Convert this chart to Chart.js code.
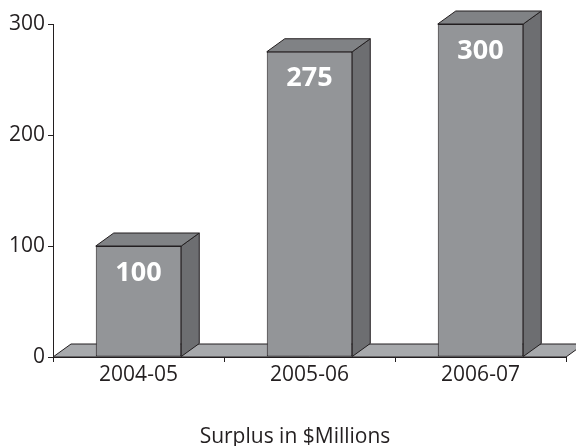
<!DOCTYPE html>
<html>
<head>
<meta charset="utf-8">
<script src="https://cdn.jsdelivr.net/npm/chart.js@4.4.0/dist/chart.umd.min.js"></script>
<style>
  html, body { margin: 0; padding: 0; background: #ffffff; }
  #wrap { width: 576px; height: 446px; position: relative; }
</style>
</head>
<body>
<div id="wrap"><canvas id="c" width="576" height="446"></canvas></div>
<script>
const categories = ['2004-05', '2005-06', '2006-07'];
const surplus = [100, 275, 300];
const yTicks = [0, 100, 200, 300];
const chartTitle = 'Surplus in $Millions';

const DEPTH_X = 18, DEPTH_Y = 13;
const INK = '#231f20';
const FRONT = '#939598', SIDE = '#6d6e71', TOP = '#808285', FLOOR = '#a7a9ac';

const threeD = {
  id: 'threeD',
  beforeDatasetsDraw(chart) {
    const ctx = chart.ctx;
    const a = chart.chartArea;
    const y0 = chart.scales.y.getPixelForValue(0);
    ctx.save();
    ctx.beginPath();
    ctx.moveTo(a.left, y0);
    ctx.lineTo(a.right, y0);
    ctx.lineTo(a.right + DEPTH_X, y0 - DEPTH_Y);
    ctx.lineTo(a.left + DEPTH_X, y0 - DEPTH_Y);
    ctx.closePath();
    ctx.fillStyle = FLOOR;
    ctx.fill();
    ctx.strokeStyle = INK;
    ctx.lineWidth = 1;
    ctx.stroke();
    ctx.restore();
  },
  afterDatasetsDraw(chart) {
    const ctx = chart.ctx;
    const meta = chart.getDatasetMeta(0);
    ctx.save();
    ctx.lineWidth = 1;
    ctx.strokeStyle = INK;
    ctx.lineJoin = 'miter';
    meta.data.forEach((bar, i) => {
      const p = bar.getProps(['x', 'y', 'base', 'width'], true);
      const l = p.x - p.width / 2, r = p.x + p.width / 2, t = p.y, b = p.base;
      ctx.beginPath();
      ctx.moveTo(r, t);
      ctx.lineTo(r + DEPTH_X, t - DEPTH_Y);
      ctx.lineTo(r + DEPTH_X, b - DEPTH_Y);
      ctx.lineTo(r, b);
      ctx.closePath();
      ctx.fillStyle = SIDE;
      ctx.fill();
      ctx.stroke();
      ctx.beginPath();
      ctx.moveTo(l, t);
      ctx.lineTo(l + DEPTH_X, t - DEPTH_Y);
      ctx.lineTo(r + DEPTH_X, t - DEPTH_Y);
      ctx.lineTo(r, t);
      ctx.closePath();
      ctx.fillStyle = TOP;
      ctx.fill();
      ctx.stroke();
      ctx.fillStyle = '#ffffff';
      ctx.font = 'bold 27px "Open Sans"';
      ctx.textAlign = 'center';
      ctx.textBaseline = 'middle';
      ctx.fillText(String(surplus[i]), p.x, t + 27);
    });
    // bottom caption
    ctx.fillStyle = INK;
    ctx.font = '21px "Open Sans"';
    ctx.textAlign = 'center';
    ctx.textBaseline = 'alphabetic';
    ctx.fillText(chartTitle, 295, 443);
    ctx.restore();
  }
};

new Chart(document.getElementById('c'), {
  type: 'bar',
  data: {
    labels: categories,
    datasets: [{
      data: surplus,
      backgroundColor: FRONT,
      borderColor: INK,
      borderWidth: 1,
      borderSkipped: false,
      barPercentage: 0.5,
      categoryPercentage: 1.0
    }]
  },
  options: {
    responsive: false,
    animation: false,
    devicePixelRatio: 1,
    layout: { padding: { left: 0, right: 10, top: 24, bottom: 0 } },
    plugins: {
      legend: { display: false },
      tooltip: { enabled: false },
      title: { display: false }
    },
    scales: {
      x: {
        afterFit: s => { s.height = 446 - 357; },
        grid: { display: true, drawOnChartArea: false, tickLength: 5, color: INK, offset: true },
        border: { display: true, color: INK },
        ticks: { color: INK, padding: 0, font: { family: '"Open Sans"', size: 21 } }
      },
      y: {
        min: 0, max: 300,
        afterFit: s => { s.width = 53; },
        afterBuildTicks: s => { s.ticks = yTicks.map(v => ({ value: v })); },
        grid: { display: true, drawOnChartArea: false, tickLength: 5, color: INK },
        border: { display: true, color: INK },
        ticks: { color: INK, padding: 3, font: { family: '"Open Sans"', size: 21 } }
      }
    }
  },
  plugins: [threeD]
});
</script>
</body>
</html>
